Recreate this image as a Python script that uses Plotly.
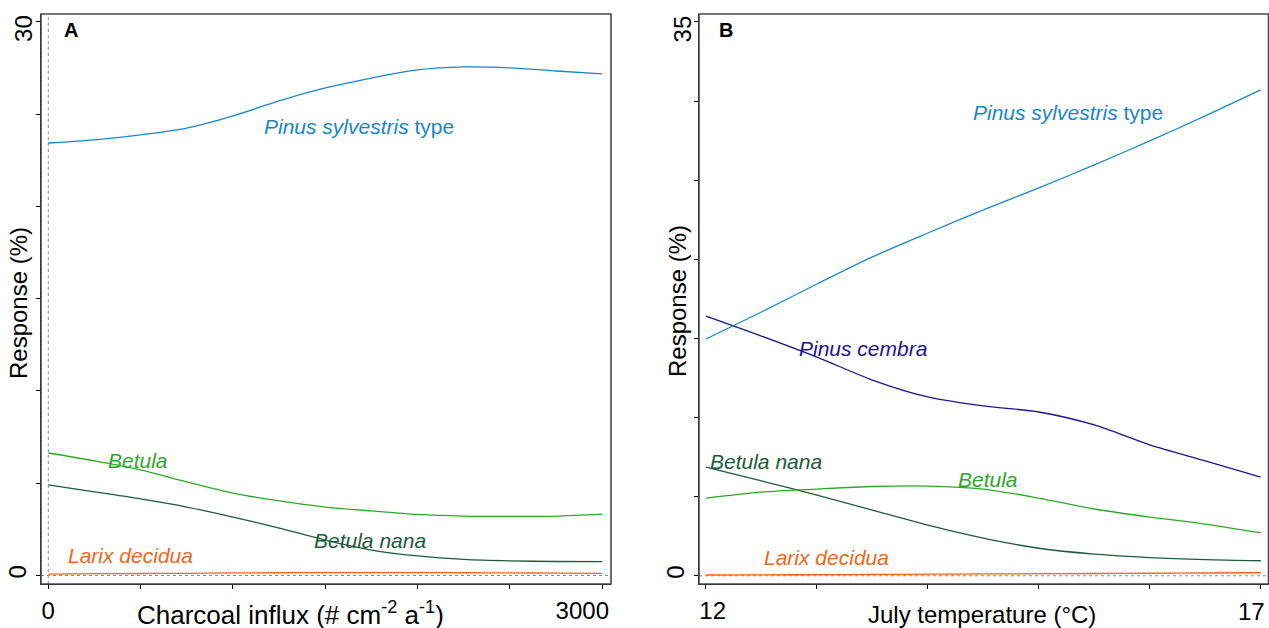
import plotly.graph_objects as go

# ---------------- data ----------------
# Panel A: response vs charcoal influx
charcoal_x = [0, 250, 500, 750, 1000, 1250, 1500, 1750, 2000, 2250, 2500, 2750, 3000]
a_pinus_sylvestris = [23.44, 23.61, 23.88, 24.25, 24.91, 25.72, 26.42, 26.96, 27.40, 27.56, 27.51, 27.34, 27.18]
a_betula = [6.64, 6.21, 5.72, 5.07, 4.47, 4.04, 3.71, 3.50, 3.31, 3.22, 3.20, 3.22, 3.33]
a_betula_nana = [4.91, 4.53, 4.15, 3.71, 3.17, 2.57, 1.92, 1.38, 1.06, 0.87, 0.79, 0.76, 0.75]
a_larix = [0.08, 0.10, 0.11, 0.12, 0.14, 0.15, 0.16, 0.16, 0.16, 0.15, 0.14, 0.13, 0.12]

# Panel B: response vs July temperature
temp_x = [12, 12.5, 13, 13.5, 14, 14.5, 15, 15.5, 16, 16.5, 17]
b_pinus_sylvestris = [14.96, 16.67, 18.44, 20.15, 21.66, 23.12, 24.51, 25.96, 27.48, 29.06, 30.70]
b_pinus_cembra = [16.41, 15.15, 13.82, 12.37, 11.30, 10.73, 10.35, 9.53, 8.27, 7.26, 6.24]
b_betula_nana = [6.87, 5.99, 5.10, 4.15, 3.20, 2.38, 1.74, 1.37, 1.15, 1.02, 0.95]
b_betula = [4.91, 5.29, 5.48, 5.64, 5.67, 5.48, 4.91, 4.22, 3.71, 3.27, 2.72]
b_larix = [0.05, 0.06, 0.07, 0.085, 0.10, 0.115, 0.13, 0.145, 0.16, 0.175, 0.19]

a_yticks = [0, 5, 10, 15, 20, 25, 30]
a_yticklabels = ["0", "", "", "", "", "", "30"]
a_xticks = [0, 500, 1000, 1500, 2000, 2500, 3000]
a_xticklabels = ["0", "", "", "", "", "", "3000"]
b_yticks = [0, 5, 10, 15, 20, 25, 30, 35]
b_yticklabels = ["0", "", "", "", "", "", "", "35"]
b_xticks = [12, 13, 14, 15, 16, 17]
b_xticklabels = ["12", "", "", "", "", "17"]

# ---------------- style ----------------
FONT = "Liberation Sans, Arial, sans-serif"
C_PS = "#1a86c8"
C_PC = "#1c168c"
C_BE = "#2ea82a"
C_BN = "#1d5b3a"
C_LX = "#f0661a"

NB = "\u00a0"   # non-breaking space, used to nudge end labels inside the frame

def pad_first(labels, pad):
    out = list(labels)
    out[0] = pad + out[0]
    return out

def pad_last(labels, pad):
    out = list(labels)
    out[-1] = out[-1] + pad
    return out

def blank_last(labels):
    # last label is drawn separately (kept inside the frame, as in the original)
    out = list(labels)
    out[-1] = ""
    return out

W, H = 1269, 628
T, B = 14, 44
PH = H - T - B

def px(x):
    return x / W

def py(y):
    return (H - B - y) / PH

fig = go.Figure()

def line(x, y, color, xa, ya):
    fig.add_trace(go.Scatter(x=x, y=y, mode="lines", line=dict(color=color, width=1.3, shape="spline", smoothing=0.8),
                             xaxis=xa, yaxis=ya, showlegend=False, hoverinfo="skip"))

line(charcoal_x, a_larix, C_LX, "x", "y")
line(charcoal_x, a_betula_nana, C_BN, "x", "y")
line(charcoal_x, a_betula, C_BE, "x", "y")
line(charcoal_x, a_pinus_sylvestris, C_PS, "x", "y")

line(temp_x, b_larix, C_LX, "x2", "y2")
line(temp_x, b_betula_nana, C_BN, "x2", "y2")
line(temp_x, b_betula, C_BE, "x2", "y2")
line(temp_x, b_pinus_cembra, C_PC, "x2", "y2")
line(temp_x, b_pinus_sylvestris, C_PS, "x2", "y2")

axis_common = dict(showgrid=False, zeroline=False, showline=True, linecolor="black", linewidth=1.2,
                   ticks="outside", ticklen=4, tickwidth=1, tickcolor="black", automargin=False,
                   ticklabeloverflow="allow",
                   tickfont=dict(family=FONT, size=24, color="black"))

fig.update_layout(
    template="none",
    width=W, height=H, autosize=False,
    margin=dict(l=0, r=0, t=T, b=B, pad=0),
    paper_bgcolor="white", plot_bgcolor="white",
    xaxis=dict(domain=[41 / W, 611 / W], range=[-39.5, 3047], tickvals=a_xticks,
               ticktext=pad_last(a_xticklabels, NB * 6),
               anchor="y", ticklabelstandoff=1, **axis_common),
    yaxis=dict(domain=[0, 1], range=[-0.46, 30.43], tickvals=a_yticks,
               ticktext=blank_last(a_yticklabels),
               anchor="x", tickangle=-90, **axis_common),
    xaxis2=dict(domain=[699 / W, 1268.5 / W], range=[11.937, 17.07], tickvals=b_xticks,
                ticktext=blank_last(pad_first(b_xticklabels, NB * 2)),
                anchor="y2", ticklabelstandoff=1, **axis_common),
    yaxis2=dict(domain=[0, 1], range=[-0.52, 35.5], tickvals=b_yticks,
                ticktext=blank_last(b_yticklabels),
                anchor="x2", tickangle=-90, **axis_common),
)

# frames and dotted zero lines
for xr, yr in (("x", "y"), ("x2", "y2")):
    fig.add_shape(type="rect", xref=f"{xr} domain", yref=f"{yr} domain", x0=0, x1=1, y0=0, y1=1,
                  line=dict(color="#4a4a4a", width=1.6), layer="above")
    fig.add_shape(type="line", xref=f"{xr} domain", yref=yr, x0=0, x1=1, y0=0, y1=0,
                  line=dict(color="#8a8a8a", width=1, dash="dot"), layer="below")
fig.add_shape(type="line", xref="x", yref="y domain", x0=0, x1=0, y0=0, y1=1,
              line=dict(color="#8a8a8a", width=1, dash="dot"), layer="below")

def ann(text, x, y, color, xref, yref, size=21, xanchor="left", angle=0, xshift=0, yshift=0):
    fig.add_annotation(text=text, x=x, y=y, xref=xref, yref=yref, showarrow=False,
                       xanchor=xanchor, yanchor="middle", textangle=angle,
                       xshift=xshift, yshift=yshift,
                       font=dict(family=FONT, size=size, color=color))

# end tick labels kept inside the frame (as in the original figure)
ann(a_yticklabels[-1], px(24), a_yticks[-1], "black", "paper", "y", size=24, xanchor="center", angle=-90, yshift=-7)
ann(b_yticklabels[-1], px(682), b_yticks[-1], "black", "paper", "y2", size=24, xanchor="center", angle=-90, yshift=-7.5)
ann(b_xticklabels[-1], b_xticks[-1], py(611), "black", "x2", "paper", size=24, xanchor="right", xshift=6.5)

# species labels panel A
ann("<i>Pinus sylvestris</i> type", 1157, 24.36, C_PS, "x", "y")
ann("<i>Betula</i>", 313, 6.21, C_BE, "x", "y")
ann("<i>Betula nana</i>", 1428, 1.92, C_BN, "x", "y")
ann("<i>Larix decidua</i>", 96, 1.11, C_LX, "x", "y")
# species labels panel B
ann("<i>Pinus sylvestris</i> type", 14.39, 29.25, C_PS, "x2", "y2")
ann("<i>Pinus cembra</i>", 12.82, 14.39, C_PC, "x2", "y2")
ann("<i>Betula nana</i>", 12.018, 7.19, C_BN, "x2", "y2")
ann("<i>Betula</i>", 14.254, 6.11, C_BE, "x2", "y2")
ann("<i>Larix decidua</i>", 12.505, 1.18, C_LX, "x2", "y2")

# panel letters
ann("<b>A</b>", px(62), py(30), "black", "paper", "paper", size=20)
ann("<b>B</b>", px(717), py(30), "black", "paper", "paper", size=20)

# axis titles
ann("Charcoal influx (# cm<sup>-2</sup> a<sup>-1</sup>)", px(290), py(613), "black", "paper", "paper", size=26, xanchor="center")
ann("July temperature (°C)", px(982), py(614), "black", "paper", "paper", size=24, xanchor="center")
ann("Response (%)", px(18), py(303), "black", "paper", "paper", size=24, xanchor="center", angle=-90)
ann("Response (%)", px(677), py(301), "black", "paper", "paper", size=24, xanchor="center", angle=-90)

fig.write_html("out.html")
